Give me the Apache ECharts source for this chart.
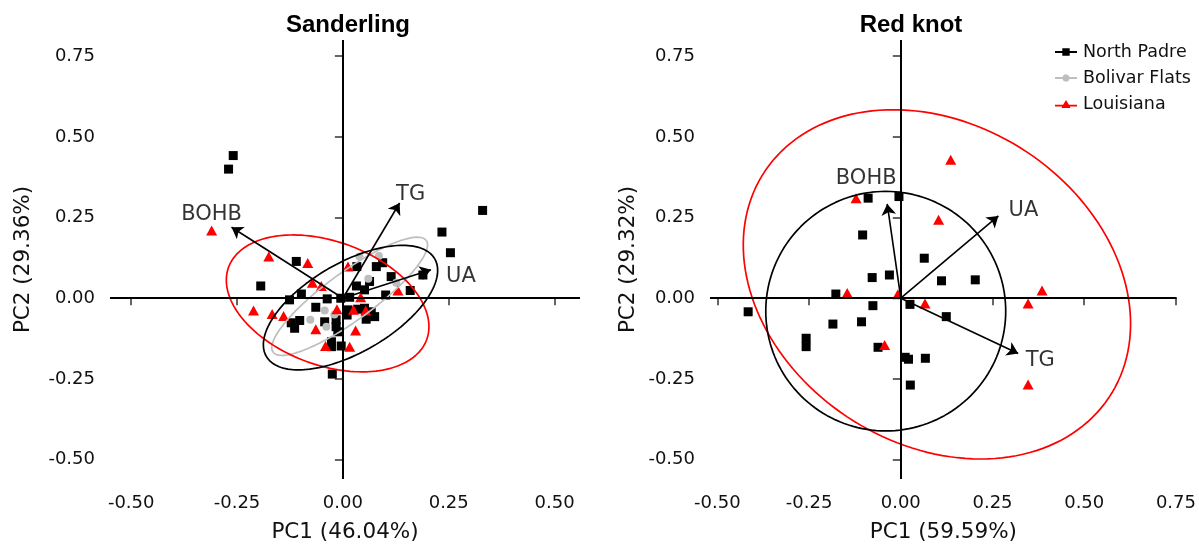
<!DOCTYPE html>
<html>
<head>
<meta charset="utf-8">
<script src="https://cdn.jsdelivr.net/npm/echarts@6/dist/echarts.min.js"></script>
<style>
  html, body { margin: 0; padding: 0; background: #ffffff; }
  #chart { width: 1199px; height: 548px; }
</style>
</head>
<body>
<div id="chart"></div>
<script>
// ---- PCA scores, Sanderling ----
const sanderlingNorthPadre = [
  [-0.259, 0.442], [-0.270, 0.400], [0.330, 0.272], [0.234, 0.205], [0.254, 0.141],
  [-0.110, 0.114], [-0.194, 0.038], [0.033, 0.098], [0.079, 0.098], [0.094, 0.110],
  [0.114, 0.067], [0.063, 0.052], [0.032, 0.038], [0.051, 0.026], [0.189, 0.072],
  [0.159, 0.024], [0.101, 0.010], [-0.098, 0.013], [-0.126, -0.005], [-0.037, -0.002],
  [-0.005, 0.000], [0.016, 0.003], [-0.064, -0.028], [0.012, -0.036], [0.035, -0.034],
  [0.051, -0.031], [0.067, -0.042], [0.075, -0.057], [0.055, -0.065], [0.010, -0.052],
  [-0.102, -0.069], [-0.122, -0.076], [-0.114, -0.093], [-0.043, -0.073], [-0.016, -0.067],
  [-0.016, -0.088], [-0.012, -0.104], [-0.027, -0.135], [-0.004, -0.148], [-0.027, -0.150],
  [-0.025, -0.235]
];
const sanderlingBolivarFlats = [
  [0.039, 0.129], [0.085, 0.131], [0.126, 0.048], [-0.043, -0.038], [-0.077, -0.067],
  [-0.039, -0.088], [0.060, 0.060], [-0.020, -0.050]
];
const sanderlingLouisiana = [
  [-0.310, 0.210], [-0.175, 0.129], [-0.083, 0.109], [-0.072, 0.048], [-0.051, 0.038],
  [0.012, 0.098], [0.130, 0.024], [0.042, 0.003], [-0.211, -0.038], [-0.167, -0.049],
  [-0.140, -0.055], [-0.014, -0.034], [0.025, -0.036], [0.054, -0.038], [-0.064, -0.096],
  [0.030, -0.100], [-0.041, -0.148], [0.016, -0.150]
];
// variable loadings: name, PC1, PC2
const sanderlingLoadings = [['TG', 0.134, 0.295], ['UA', 0.208, 0.088], ['BOHB', -0.263, 0.220]];
// 95% ellipses: centre x, centre y, first semi-axis (x, y), second semi-axis (x, y)
const sanderlingEllipseNorthPadre = [0.018, -0.029, 0.199, 0.151, -0.0527, 0.120];
const sanderlingEllipseBolivarFlats = [0.016, 0.006, 0.181, 0.173, -0.0333, 0.0602];
const sanderlingEllipseLouisiana = [-0.036, -0.016, 0.234, -0.112, 0.0498, 0.180];

// ---- PCA scores, Red knot ----
const redKnotNorthPadre = [
  [-0.089, 0.310], [-0.005, 0.315], [-0.104, 0.196], [0.064, 0.124], [-0.078, 0.064],
  [-0.031, 0.072], [0.111, 0.054], [0.203, 0.057], [-0.177, 0.013], [-0.416, -0.042],
  [-0.076, -0.023], [0.025, -0.019], [0.124, -0.057], [-0.185, -0.080], [-0.107, -0.073],
  [-0.258, -0.124], [-0.258, -0.150], [-0.062, -0.152], [0.012, -0.183], [0.021, -0.189],
  [0.067, -0.186], [0.026, -0.269]
];
const redKnotLouisiana = [
  [0.136, 0.429], [-0.122, 0.310], [0.103, 0.243], [-0.146, 0.016], [-0.008, 0.012],
  [0.066, -0.016], [0.347, -0.016], [0.385, 0.024], [-0.044, -0.145], [0.347, -0.267]
];
const redKnotLoadings = [['BOHB', -0.037, 0.292], ['UA', 0.266, 0.255], ['TG', 0.320, -0.171]];
const redKnotEllipseNorthPadre = [-0.041, -0.040, 0.327, 0.0, 0.0, 0.371];
const redKnotEllipseLouisiana = [0.0985, 0.043, 0.477, -0.336, 0.226, 0.424];

// ---- axes ----
const panelTitles = ['Sanderling', 'Red knot'];
const xAxisTitles = ['PC1 (46.04%)', 'PC1 (59.59%)'];
const yAxisTitles = ['PC2 (29.36%)', 'PC2 (29.32%)'];
const xTicksSanderling = [-0.5, -0.25, 0, 0.25, 0.5];
const xTicksRedKnot = [-0.5, -0.25, 0, 0.25, 0.5, 0.75];
const yTicks = [-0.5, -0.25, 0, 0.25, 0.5, 0.75];
const groups = ['North Padre', 'Bolivar Flats', 'Louisiana'];

const COLORS = { 'North Padre': '#000000', 'Bolivar Flats': '#bebebe', 'Louisiana': '#ff0000' };
const SYMBOLS = { 'North Padre': 'rect', 'Bolivar Flats': 'circle', 'Louisiana': 'triangle' };
const SYMBOL_SIZES = { 'North Padre': 9, 'Bolivar Flats': 8, 'Louisiana': [11, 10] };
const FONT = 'DejaVu Sans';

// trace an ellipse from its centre and two conjugate semi-axes
function ellipsePath(p) {
  const pts = [];
  const n = 160;
  for (let i = 0; i <= n; i++) {
    const t = (i / n) * Math.PI * 2;
    pts.push([p[0] + p[2] * Math.cos(t) + p[4] * Math.sin(t),
              p[1] + p[3] * Math.cos(t) + p[5] * Math.sin(t)]);
  }
  return pts;
}

function scoreSeries(name, data, idx) {
  return {
    type: 'scatter', name: name, data: data,
    xAxisIndex: idx, yAxisIndex: idx,
    symbol: SYMBOLS[name], symbolSize: SYMBOL_SIZES[name],
    itemStyle: { color: COLORS[name], opacity: 1 },
    z: 3, silent: true
  };
}

function ellipseSeries(name, params, idx) {
  return {
    type: 'line', name: name, data: ellipsePath(params),
    xAxisIndex: idx, yAxisIndex: idx,
    showSymbol: false, symbol: 'none', smooth: false,
    lineStyle: { color: COLORS[name], width: 1.7 },
    z: 4, silent: true
  };
}

// label offsets (px) from each arrow tip
const LABEL_OFFSETS = [
  { TG: [11, -8], UA: [30, 7], BOHB: [-20, -13] },
  { BOHB: [-21, -25], UA: [25, -5], TG: [22, 7] }
];

function loadingSeries(loadings, idx) {
  return [
    {
      type: 'lines', coordinateSystem: 'cartesian2d',
      xAxisIndex: idx, yAxisIndex: idx,
      data: loadings.map(l => ({ coords: [[0, 0], [l[1], l[2]]] })),
      symbol: ['none', 'arrow'], symbolSize: [0, 11],
      lineStyle: { color: '#000', width: 1.6, opacity: 1, curveness: 0 },
      z: 6, silent: true
    },
    {
      type: 'scatter', xAxisIndex: idx, yAxisIndex: idx,
      data: loadings.map(l => ({
        value: [l[1], l[2]], name: l[0],
        label: { offset: LABEL_OFFSETS[idx][l[0]] }
      })),
      symbolSize: 0,
      label: {
        show: true, position: 'inside', formatter: '{b}',
        fontFamily: FONT, fontSize: 21, color: '#000'
      },
      z: 7, silent: true
    }
  ];
}

function zeroLines(idx) {
  return {
    type: 'line', data: [], xAxisIndex: idx, yAxisIndex: idx, silent: true, z: 1,
    markLine: {
      silent: true, symbol: 'none', animation: false,
      label: { show: false },
      lineStyle: { color: '#000', width: 2, type: 'solid' },
      data: [{ xAxis: 0 }, { yAxis: 0 }]
    }
  };
}

function xAxis(idx, min, max, ticks) {
  return {
    type: 'value', gridIndex: idx, min: min, max: max,
    name: xAxisTitles[idx], nameLocation: 'middle', nameGap: 42,
    nameTextStyle: { fontFamily: FONT, fontSize: 21.5, color: '#111' },
    axisLine: { show: false }, splitLine: { show: false },
    axisTick: { show: true, customValues: ticks, length: 7, lineStyle: { color: '#333', width: 1.5 } },
    axisLabel: {
      customValues: ticks, margin: 15, formatter: v => v.toFixed(2),
      fontFamily: FONT, fontSize: 18, color: '#111'
    }
  };
}

function yAxis(idx, gap) {
  return {
    type: 'value', gridIndex: idx, min: -0.56, max: 0.8,
    name: yAxisTitles[idx], nameLocation: 'middle', nameGap: gap, nameRotate: 90,
    nameTextStyle: { fontFamily: FONT, fontSize: 21.5, color: '#111' },
    axisLine: { show: false }, splitLine: { show: false },
    axisTick: { show: true, customValues: yTicks, length: 8, lineStyle: { color: '#333', width: 1.5 } },
    axisLabel: {
      customValues: yTicks, margin: 15, formatter: v => v.toFixed(2),
      fontFamily: FONT, fontSize: 18, color: '#111'
    }
  };
}

const ICONS = {
  'North Padre': 'path://M0,3.1 L7.3,3.1 L7.3,0.3 L14.7,0.3 L14.7,3.1 L22,3.1 L22,4.9 L14.7,4.9 L14.7,7.7 L7.3,7.7 L7.3,4.9 L0,4.9 Z',
  'Bolivar Flats': 'path://M0,3.1 L7.5,3.1 A3.6,3.6 0 0 1 14.5,3.1 L22,3.1 L22,4.9 L14.5,4.9 A3.6,3.6 0 0 1 7.5,4.9 L0,4.9 Z',
  'Louisiana': 'path://M0,4.8 L8.1,4.8 L11,0 L13.9,4.8 L22,4.8 L22,6.6 L14.8,6.6 L15.5,8 L6.5,8 L7.2,6.6 L0,6.6 Z'
};

const series = [
  zeroLines(0), zeroLines(1),
  scoreSeries('North Padre', sanderlingNorthPadre, 0),
  scoreSeries('Bolivar Flats', sanderlingBolivarFlats, 0),
  scoreSeries('Louisiana', sanderlingLouisiana, 0),
  ellipseSeries('Bolivar Flats', sanderlingEllipseBolivarFlats, 0),
  ellipseSeries('Louisiana', sanderlingEllipseLouisiana, 0),
  ellipseSeries('North Padre', sanderlingEllipseNorthPadre, 0),
  ...loadingSeries(sanderlingLoadings, 0),
  scoreSeries('North Padre', redKnotNorthPadre, 1),
  scoreSeries('Louisiana', redKnotLouisiana, 1),
  ellipseSeries('Louisiana', redKnotEllipseLouisiana, 1),
  ellipseSeries('North Padre', redKnotEllipseNorthPadre, 1),
  ...loadingSeries(redKnotLoadings, 1)
];

const chart = echarts.init(document.getElementById('chart'), null, { renderer: 'canvas' });
chart.setOption({
  animation: false,
  backgroundColor: '#ffffff',
  title: [
    { text: panelTitles[0], left: 343, top: 8, textAlign: 'center',
      textStyle: { fontFamily: 'Liberation Sans', fontWeight: 'bold', fontSize: 24, color: '#000' } },
    { text: panelTitles[1], left: 906, top: 8, textAlign: 'center',
      textStyle: { fontFamily: 'Liberation Sans', fontWeight: 'bold', fontSize: 24, color: '#000' } }
  ],
  legend: {
    orient: 'vertical', left: 1050, top: 38,
    itemWidth: 22, itemHeight: 8, itemGap: 8,
    selectedMode: false,
    textStyle: { fontFamily: FONT, fontSize: 17.5, color: '#111', padding: [0, 0, 0, 1] },
    data: groups.map(g => ({ name: g, icon: ICONS[g], itemStyle: { color: COLORS[g], borderWidth: 0 } }))
  },
  grid: [
    { left: 110, top: 40, width: 470, height: 439 },
    { left: 710, top: 40, width: 471, height: 439 }
  ],
  xAxis: [xAxis(0, -0.55, 0.56, xTicksSanderling), xAxis(1, -0.52, 0.752, xTicksRedKnot)],
  yAxis: [yAxis(0, 76), yAxis(1, 71)],
  series: series
});
</script>
</body>
</html>
